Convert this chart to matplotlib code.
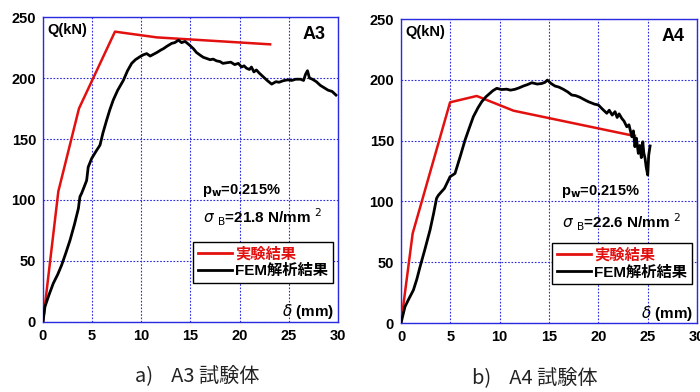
import matplotlib
matplotlib.use("Agg")
import matplotlib.pyplot as plt
from matplotlib.lines import Line2D

plt.rcParams['font.family'] = ['Liberation Sans', 'Noto Sans CJK JP', 'DejaVu Sans']

# ---------------- data ----------------
# A3 specimen
a3_exp_x = [0, 1.56, 3.66, 7.32, 11.57, 23.1]
a3_exp_y = [0, 107, 175, 238, 233.3, 227.6]
a3_fem_x = [0, 0.2, 0.6, 1.05, 1.5, 1.9, 2.3, 2.75, 3.2, 3.6, 3.76, 3.93, 4.2, 4.44, 4.6, 4.95,
            5.4, 5.8, 6.1, 6.48, 6.8, 7.15, 7.6, 8.17, 8.6, 9.02, 9.4, 9.87, 10.2, 10.55,
            10.9, 11.23, 11.6, 12.0, 12.24, 12.6, 13.09, 13.4, 13.77, 14.1, 14.45, 14.9,
            15.3, 15.6, 15.97, 16.3, 16.65, 17.0, 17.3, 17.67, 18.0, 18.3, 18.69, 19.1,
            19.5, 19.87, 20.2, 20.45, 20.7, 21.0, 21.2, 21.45, 21.7, 22.0, 22.4, 22.8,
            23.26, 23.7, 24.0, 24.45, 24.9, 25.3, 25.7, 26.2, 26.5, 26.7, 26.9, 27.1,
            27.4, 27.8, 28.2, 28.6, 29.0, 29.4, 29.8]
a3_fem_y = [0, 12.5, 22, 31.7, 39, 46.7, 56, 67, 80, 93, 102.7, 105.5, 111, 116, 127, 134,
            140, 145, 155, 165.6, 174, 182, 190, 198, 206, 212, 215, 217.5, 219, 220,
            218, 219.4, 221, 223, 224, 226, 228.4, 229, 231, 229, 230, 227,
            224, 221, 218.8, 217, 216, 215, 215.5, 214, 213.5, 212, 212.5, 213,
            211, 212, 209, 210, 208, 207, 209, 205, 206.6, 204, 201, 198,
            195, 197, 196.5, 197.8, 198.5, 198, 199, 199, 198, 203, 206, 200,
            199, 197, 194, 192, 190, 189, 186]

# A4 specimen
a4_exp_x = [0, 1.18, 4.97, 7.67, 11.4, 23.2, 23.7]
a4_exp_y = [0, 73.7, 181.5, 186.7, 174.6, 154.6, 154]
a4_fem_x = [0, 0.4, 0.8, 1.25, 1.6, 1.93, 2.4, 2.94, 3.3, 3.6, 3.78, 3.95, 4.4, 4.97,
            5.47, 6.0, 6.49, 6.9, 7.33, 7.8, 8.18, 8.6, 9.02, 9.3, 9.7, 10.2, 10.7,
            11.1, 11.55, 12.0, 12.4, 12.8, 13.25, 13.8, 14.27, 14.6, 14.83, 15.2, 15.6,
            16.0, 16.45, 16.9, 17.3, 17.7, 18.14, 18.5, 18.98, 19.3, 19.6, 20.0, 20.4,
            20.85, 21.1, 21.4, 21.69, 21.9, 22.1, 22.37, 22.6, 22.88, 23.1, 23.39, 23.55,
            23.7, 23.85, 24.05, 24.2, 24.35, 24.5, 24.6, 24.73, 24.85, 25.0, 25.1, 25.24]
a4_fem_y = [0, 13.4, 20, 27, 36, 46.3, 60, 76.5, 90, 102.5, 105, 106.6, 110.7, 120.3,
            123, 137, 150.5, 160, 169.7, 177, 182, 186, 189, 191, 193, 192, 192.3,
            191.5, 192.2, 193.5, 194.9, 196, 197.6, 196.5, 197, 198, 199.8, 197, 194.9,
            194, 192.2, 190, 187.5, 187, 185.6, 184, 182, 181, 180, 179.3, 176,
            172.5, 175, 171, 173.8, 169, 172, 168.3, 166, 161.4, 163, 153.2, 158,
            145, 152, 139.5, 146, 136, 149, 140, 135.4, 128, 121.7, 138, 145.6]

x_ticks = [0, 5, 10, 15, 20, 25, 30]
y_ticks = [0, 50, 100, 150, 200, 250]

panels = [
    dict(pos=[0.0614, 0.1786, 0.4214, 0.778], ex=a3_exp_x, ey=a3_exp_y, fx=a3_fem_x, fy=a3_fem_y,
         name="A3", sigma="21.8", caption="a)    A3 試験体", cap_x=135 / 700, cap_y=0.043,
         pw_y=108, sg_y=86, leg_anchor=(0.983, 0.128), d_y=9),
    dict(pos=[0.5729, 0.176, 0.4229, 0.7755], ex=a4_exp_x, ey=a4_exp_y, fx=a4_fem_x, fy=a4_fem_y,
         name="A4", sigma="22.6", caption="b)    A4 試験体", cap_x=472 / 700, cap_y=0.036,
         pw_y=108, sg_y=83, leg_anchor=(0.983, 0.128), d_y=7.5),
]

fig = plt.figure(figsize=(7.0, 3.92), dpi=100)
fig.patch.set_facecolor('white')

for p in panels:
    ax = fig.add_axes(p['pos'])
    ax.set_xlim(0, 30)
    ax.set_ylim(0, 250)
    ax.set_xticks(x_ticks)
    ax.set_yticks(y_ticks)
    ax.grid(True, color='#2a2ae0', linestyle=(0, (1.5, 1.5)), linewidth=0.8)
    for s in ax.spines.values():
        s.set_color('#2a2ae0')
        s.set_linewidth(1.0)
    ax.tick_params(length=0, labelsize=10.5, pad=5)
    for lab in ax.get_xticklabels() + ax.get_yticklabels():
        lab.set_fontweight('bold')

    ax.plot(p['ex'], p['ey'], color='#e31010', linewidth=1.8, zorder=3)
    ax.plot(p['fx'], p['fy'], color='black', linewidth=2.0, zorder=4)

    ax.text(0.45, 245, "Q(kN)", fontsize=10.5, fontweight='bold', ha='left', va='top')
    ax.text(28.7, 243, p['name'], fontsize=13, fontweight='bold', ha='right', va='top')
    ax.text(16.2, p['pw_y'], r"p$_{\mathbf{w}}$=0.215%", fontsize=10.5, fontweight='bold',
            ha='left', va='center')
    ax.text(16.3, p['sg_y'], r"$\sigma$ $_{\mathrm{B}}$=" + p['sigma'] + " N/mm $^{2}$",
            fontsize=11, fontweight='bold', ha='left', va='center')
    ax.text(29.6, p['d_y'], r"$\delta$ (mm)", fontsize=11, fontweight='bold',
            ha='right', va='center')

    handles = [Line2D([], [], color='#e31010', linewidth=2.0),
               Line2D([], [], color='black', linewidth=2.0)]
    leg = ax.legend(handles, ["実験結果", "FEM解析結果"], loc='lower right',
                    bbox_to_anchor=p['leg_anchor'], fancybox=False, framealpha=1,
                    edgecolor='black', handlelength=2.2, handletextpad=0.25,
                    borderpad=0.3, labelspacing=0.2, borderaxespad=0,
                    prop={'size': 11, 'weight': 'bold'})
    leg.get_frame().set_linewidth(1.0)
    leg.get_texts()[0].set_color('#e31010')
    leg.set_zorder(5)

    fig.text(p['cap_x'], p['cap_y'], p['caption'], fontsize=14.5, ha='left',
             va='center', color='#222222', family=['Noto Sans CJK JP', 'DejaVu Sans'])

fig.savefig("out.png", dpi=100, facecolor='white')
